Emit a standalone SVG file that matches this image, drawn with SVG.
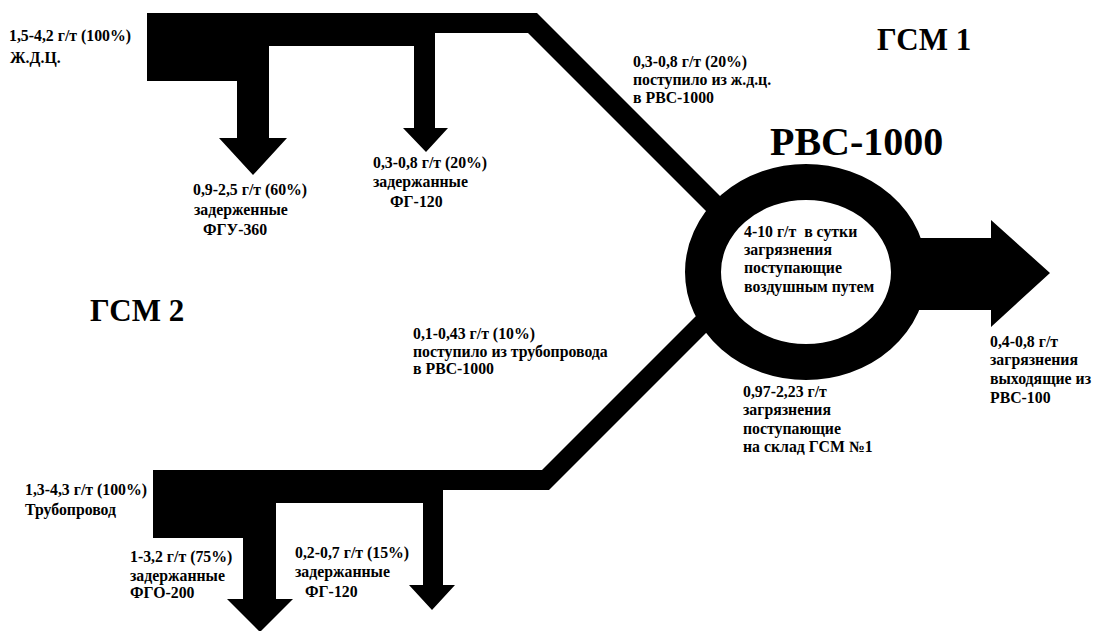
<svg xmlns="http://www.w3.org/2000/svg" width="1093" height="631" viewBox="0 0 1093 631">
<style>
text{font-family:"Liberation Serif","DejaVu Serif",serif;font-weight:bold;fill:#000;white-space:pre}
.t{font-size:15.8px}
.c{font-size:15.8px}
.h{font-size:31px}
.big{font-size:40px}
.flow{fill:#000;stroke:none}
</style>
<rect width="1093" height="631" fill="#fff"/>
<g id="connectors">
<polygon class="flow" points="147,13 537,13 739,215 710,215 528,33 435,33 435,128 448,128 426,152 403,128 414,128 414,46 269,46 269,138 287,138 253,175 219,138 237,138 237,81 147,81"/>
<polygon class="flow" points="153,470 542,470 702,310 729,310 549,490 443,490 443,585 455,585 432,610 409,585 423,585 423,503 276,503 276,599 293,599 260,632 227,599 243,599 243,538 153,538"/>
<polygon class="flow" points="885,238 991,238 991,220 1050,273 991,327 991,310 885,310"/>
</g>
<g id="rvs1000">
<ellipse cx="806" cy="272" rx="103" ry="90" fill="#fff" stroke="#000" stroke-width="36"/>
<text class="big" x="770" y="155">РВС-1000</text>
<text class="t c" x="744" y="237" xml:space="preserve">4-10 г/т  в сутки</text>
<text class="t c" x="744" y="255">загрязнения</text>
<text class="t c" x="744" y="273">поступающие</text>
<text class="t c" x="744" y="292">воздушным путем</text>
</g>
<g id="gsm1"><text class="h" x="877" y="50">ГСМ 1</text></g>
<g id="gsm2"><text class="h" x="90" y="321">ГСМ 2</text></g>
<g id="src-rail">
<text class="t" x="9" y="41">1,5-4,2 г/т (100%)</text>
<text class="t" x="10" y="63">Ж.Д.Ц.</text>
</g>
<g id="fgu360">
<text class="t" x="193" y="195">0,9-2,5 г/т (60%)</text>
<text class="t" x="194" y="215">задерженные</text>
<text class="t" x="203" y="235">ФГУ-360</text>
</g>
<g id="fg120-top">
<text class="t" x="373" y="168">0,3-0,8 г/т (20%)</text>
<text class="t" x="373" y="187">задержанные</text>
<text class="t" x="390" y="207">ФГ-120</text>
</g>
<g id="rail-to-rvs">
<text class="t" x="633" y="67">0,3-0,8 г/т (20%)</text>
<text class="t" x="633" y="85">поступило из ж.д.ц.</text>
<text class="t" x="633" y="103">в РВС-1000</text>
</g>
<g id="pipe-to-rvs">
<text class="t" x="413" y="339">0,1-0,43 г/т (10%)</text>
<text class="t" x="413" y="357">поступило из трубопровода</text>
<text class="t" x="413" y="374">в РВС-1000</text>
</g>
<g id="out">
<text class="t" x="990" y="347">0,4-0,8 г/т</text>
<text class="t" x="990" y="365">загрязнения</text>
<text class="t" x="990" y="384">выходящие из</text>
<text class="t" x="990" y="403">РВС-100</text>
</g>
<g id="to-store">
<text class="t" x="743" y="397">0,97-2,23 г/т</text>
<text class="t" x="743" y="415">загрязнения</text>
<text class="t" x="743" y="434">поступающие</text>
<text class="t" x="743" y="452">на склад ГСМ №1</text>
</g>
<g id="src-pipe">
<text class="t" x="25" y="495">1,3-4,3 г/т (100%)</text>
<text class="t" x="25" y="515">Трубопровод</text>
</g>
<g id="fgo200">
<text class="t" x="130" y="562">1-3,2 г/т (75%)</text>
<text class="t" x="130" y="581">задержанные</text>
<text class="t" x="130" y="598">ФГО-200</text>
</g>
<g id="fg120-bottom">
<text class="t" x="295" y="558">0,2-0,7 г/т (15%)</text>
<text class="t" x="295" y="577">задержанные</text>
<text class="t" x="305" y="597">ФГ-120</text>
</g>
</svg>
